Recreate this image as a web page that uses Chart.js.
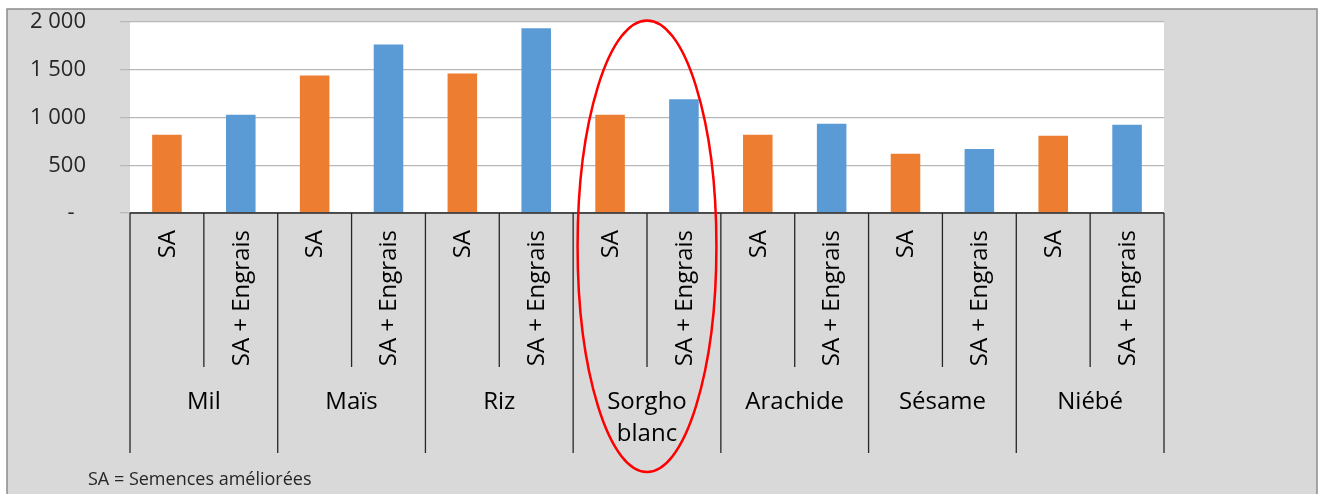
<!DOCTYPE html>
<html>
<head>
<meta charset="utf-8">
<script src="https://cdn.jsdelivr.net/npm/chart.js@4/dist/chart.umd.min.js"></script>
<style>
  html, body { margin: 0; padding: 0; background: #fff; }
  #wrap { width: 1320px; height: 494px; }
</style>
</head>
<body>
<div id="wrap"><canvas id="chart" width="1320" height="494"></canvas></div>
<script>
// cultures and treatments
const crops = ['Mil', 'Maïs', 'Riz', ['Sorgho', 'blanc'], 'Arachide', 'Sésame', 'Niébé'];
const treatments = ['SA', 'SA + Engrais'];
// yields
const saValues = [820, 1440, 1460, 1030, 820, 620, 810];
const saEngraisValues = [1030, 1765, 1935, 1190, 935, 670, 925];
const yTicks = [0, 500, 1000, 1500, 2000];
const footnote = 'SA = Semences améliorées';
const highlightCrop = 3; // Sorgho blanc

const FONT = '"Open Sans", "Noto Sans", sans-serif';

function fmt(v) {
  if (v === 0) return '-  ';
  return String(v).replace(/\B(?=(\d{3})+(?!\d))/g, ' ');
}

// grey frame + white plot area
const backgroundPlugin = {
  id: 'background',
  beforeDraw(chart) {
    const { ctx, chartArea } = chart;
    ctx.save();
    ctx.fillStyle = '#d9d9d9';
    ctx.fillRect(7, 9, 1310, 490);
    ctx.strokeStyle = '#8c8c8c';
    ctx.lineWidth = 1.5;
    ctx.strokeRect(7, 9, 1310, 490);
    ctx.fillStyle = '#ffffff';
    ctx.fillRect(chartArea.left, chartArea.top, chartArea.right - chartArea.left, chartArea.bottom - chartArea.top);
    ctx.restore();
  }
};

// two-level category axis drawn under the plot
const multiLabelPlugin = {
  id: 'multiLabel',
  afterDraw(chart) {
    const { ctx, chartArea } = chart;
    const x = chart.scales.x;
    const n = crops.length;
    const w = (chartArea.right - chartArea.left) / n;
    const base = chartArea.bottom;
    ctx.save();
    ctx.strokeStyle = '#262626';
    ctx.lineWidth = 1.3;
    // baseline
    ctx.beginPath();
    ctx.moveTo(chartArea.left, base);
    ctx.lineTo(chartArea.right, base);
    ctx.stroke();
    for (let i = 0; i < n; i++) {
      const c = x.getPixelForValue(i);
      // group separator
      ctx.beginPath();
      ctx.moveTo(c - w / 2, base);
      ctx.lineTo(c - w / 2, base + 240);
      ctx.stroke();
      // sub separator
      ctx.beginPath();
      ctx.moveTo(c, base);
      ctx.lineTo(c, base + 154);
      ctx.stroke();
      if (i === n - 1) {
        ctx.beginPath();
        ctx.moveTo(c + w / 2, base);
        ctx.lineTo(c + w / 2, base + 240);
        ctx.stroke();
      }
      // rotated treatment labels
      ctx.fillStyle = '#000';
      ctx.font = '24px ' + FONT;
      treatments.forEach((t, k) => {
        const sx = c + (k === 0 ? -w / 4 : w / 4);
        ctx.save();
        ctx.translate(sx, base + 17);
        ctx.rotate(-Math.PI / 2);
        ctx.textAlign = 'right';
        ctx.textBaseline = 'middle';
        ctx.fillText(t, 0, 1);
        ctx.restore();
      });
      // crop label
      const lines = Array.isArray(crops[i]) ? crops[i] : [crops[i]];
      ctx.textAlign = 'center';
      ctx.textBaseline = 'middle';
      lines.forEach((l, j) => ctx.fillText(l, c, base + 189 + j * 32));
    }
    // footnote
    ctx.font = '18px ' + FONT;
    ctx.fillStyle = '#262626';
    ctx.textAlign = 'left';
    ctx.fillText(footnote, 88, 480);
    ctx.restore();
  }
};

// red ellipse around the highlighted crop
const ellipsePlugin = {
  id: 'ellipse',
  afterDraw(chart) {
    const { ctx, chartArea } = chart;
    const x = chart.scales.x;
    const w = (chartArea.right - chartArea.left) / crops.length;
    const cx = x.getPixelForValue(highlightCrop);
    const top = chartArea.top - 1.5;
    const bottom = 472;
    ctx.save();
    ctx.strokeStyle = '#ff0000';
    ctx.lineWidth = 2.5;
    ctx.beginPath();
    ctx.ellipse(cx, (top + bottom) / 2, w * 0.47, (bottom - top) / 2, 0, 0, Math.PI * 2);
    ctx.stroke();
    ctx.restore();
  }
};

const ctx = document.getElementById('chart').getContext('2d');
new Chart(ctx, {
  type: 'bar',
  data: {
    labels: crops,
    datasets: [
      {
        label: treatments[0],
        data: saValues,
        backgroundColor: '#ED7D31',
        barPercentage: 0.4,
        categoryPercentage: 1
      },
      {
        label: treatments[1],
        data: saEngraisValues,
        backgroundColor: '#5B9BD5',
        barPercentage: 0.4,
        categoryPercentage: 1
      }
    ]
  },
  options: {
    responsive: false,
    animation: false,
    layout: { padding: { left: 0, top: 22, right: 156, bottom: 281 } },
    plugins: {
      legend: { display: false },
      tooltip: { enabled: false }
    },
    scales: {
      x: { display: false },
      y: {
        min: 0,
        max: 2000,
        afterFit(scale) {
          scale.width = 130;
          scale.paddingTop = 0;
          scale.paddingBottom = 0;
        },
        afterBuildTicks(scale) { scale.ticks = yTicks.map(v => ({ value: v })); },
        border: { display: false },
        grid: {
          color: '#b8b8b8',
          lineWidth: 1.3,
          tickLength: 10
        },
        ticks: {
          padding: 34,
          color: '#262626',
          font: { family: FONT, size: 22 },
          callback: v => fmt(v)
        }
      }
    }
  },
  plugins: [backgroundPlugin, multiLabelPlugin, ellipsePlugin]
});
</script>
</body>
</html>
